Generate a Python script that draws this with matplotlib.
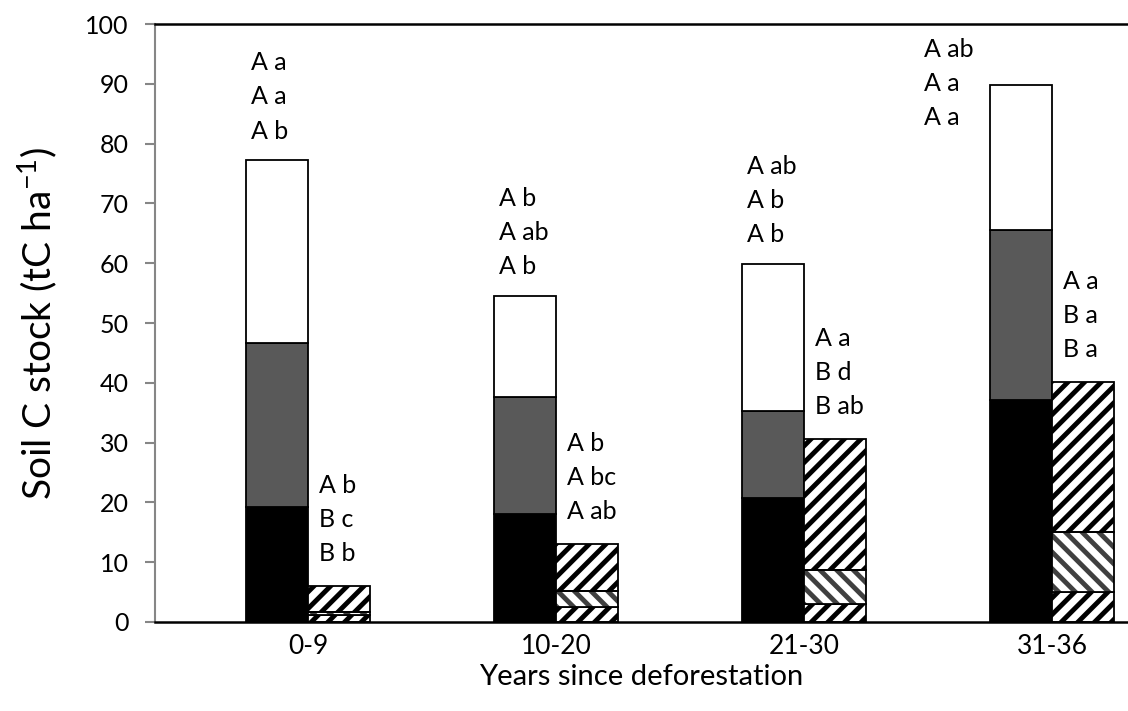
import numpy as np
import matplotlib
matplotlib.use("Agg")
import matplotlib.pyplot as plt

plt.rcParams.update({
    "font.family": ["Lato", "DejaVu Sans"],
    "mathtext.default": "regular",
    "hatch.linewidth": 3.5,
})

# data (tC ha-1)
groups = ["0-9", "10-20", "21-30", "31-36"]
# left bars: stacked black / grey / white
left_bottom = [19.3, 18.1, 20.7, 37.1]
left_mid = [27.3, 19.6, 14.6, 28.5]
left_top = [30.6, 16.9, 24.6, 24.2]
# right bars: hatched stack
right_bottom = [1.1, 2.5, 3.0, 5.0]
right_mid = [0.6, 2.6, 5.7, 10.0]
right_top = [4.3, 7.9, 21.9, 25.1]
# significance letters (top line first)
left_letters = [["A a", "A a", "A b"], ["A b", "A ab", "A b"],
                ["A ab", "A b", "A b"], ["A ab", "A a", "A a"]]
right_letters = [["A b", "B c", "B b"], ["A b", "A bc", "A ab"],
                 ["A a", "B d", "B ab"], ["A a", "B a", "B a"]]

x = np.arange(len(groups))
w = 0.25

fig = plt.figure(figsize=(11.28, 7.11), dpi=100)
ax = fig.add_axes([0.1374, 0.1252, 0.8626, 0.841])

lb = np.array(left_bottom); lm = np.array(left_mid); lt = np.array(left_top)
rb = np.array(right_bottom); rm = np.array(right_mid); rt = np.array(right_top)

kw = dict(width=w, edgecolor="black", linewidth=1.3)
ax.bar(x - w/2, lb, color="black", **kw)
ax.bar(x - w/2, lm, bottom=lb, color="#595959", **kw)
ax.bar(x - w/2, lt, bottom=lb + lm, color="white", **kw)

ax.bar(x + w/2, rb, color="white", hatch="//", **kw)
b2 = ax.bar(x + w/2, rm, bottom=rb, color="white", hatch="\\\\",
            width=w, edgecolor="#404040", linewidth=0)
ax.bar(x + w/2, rt, bottom=rb + rm, color="white", hatch="//", **kw)
# black outline around the grey-hatched segment
for p in b2:
    ax.add_patch(plt.Rectangle(p.get_xy(), p.get_width(), p.get_height(),
                               fill=False, edgecolor="black", linewidth=1.3))

# letters
step = 5.7
fs = 18
left_tot = lb + lm + lt
right_tot = rb + rm + rt
for i in range(len(groups)):
    if left_tot[i] + 3 * step + 3 > 100:
        lx, ly = x[i] - 0.515, 95.7
    else:
        lx, ly = x[i] - w + 0.02, left_tot[i] + 4.9 + 2 * step
    for k, s in enumerate(left_letters[i]):
        ax.text(lx, ly - k * step, s, fontsize=fs, ha="left", va="center")
    rx, ry = x[i] + 0.045, right_tot[i] + 5.4 + 2 * step
    for k, s in enumerate(right_letters[i]):
        ax.text(rx, ry - k * step, s, fontsize=fs, ha="left", va="center")

ax.set_xlim(-0.617, 3.306)
ax.set_ylim(0, 100)
ax.set_yticks(np.arange(0, 101, 10))
ax.set_xticks(x)
ax.set_xticklabels(groups, fontsize=19)
ax.tick_params(axis="x", length=0, pad=9)
ax.tick_params(axis="y", direction="out", length=7, color="#868686",
               width=1.5, labelsize=18, pad=12)
ax.spines["left"].set_color("#868686")
ax.spines["left"].set_linewidth(1.5)
ax.spines["bottom"].set_linewidth(1.8)
ax.spines["top"].set_linewidth(1.8)
ax.spines["right"].set_visible(False)

ax.set_ylabel("Soil C stock (tC ha$^{-1}$)", fontsize=28)
ax.yaxis.set_label_coords(-0.099, 0.5)
ax.set_xlabel("Years since deforestation", fontsize=21, labelpad=3)

fig.savefig("out.png", dpi=100)
